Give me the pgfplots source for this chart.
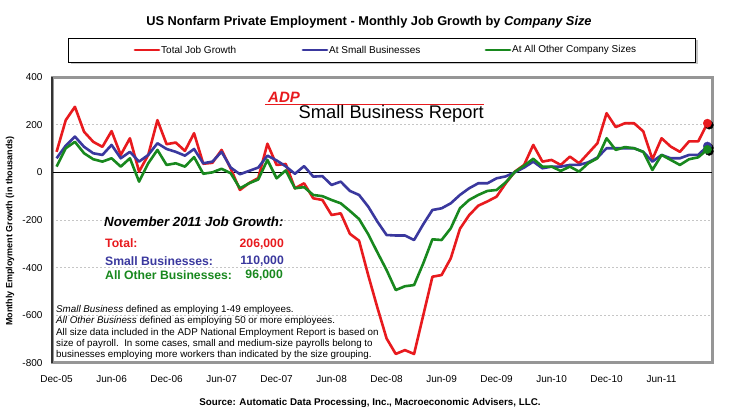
\documentclass[border=0pt]{standalone}
\usepackage{pgfplots}
\usepackage{pgfplotstable}
\pgfplotsset{compat=1.18}
\usepackage{fontspec}
\setmainfont{Liberation Sans}

\definecolor{tred}{RGB}{232,26,30}
\definecolor{sblue}{RGB}{58,56,158}
\definecolor{ogreen}{RGB}{24,136,30}
\definecolor{frame}{RGB}{150,150,150}

% month index (0 = Dec-05), total, small businesses, all other sizes (thousands)
\pgfplotstableread{
i total small other
0 86 59 24
1 219 112 101
2 275 150 128
3 170 107 80
4 128 80 55
5 107 73 45
6 173 115 59
7 73 59 24
8 143 86 59
9 3 45 -39
10 73 73 38
11 219 122 94
12 118 98 31
13 125 86 38
14 90 70 24
15 164 98 64
16 36 38 -6
17 40 45 0
18 94 86 15
19 15 20 -4
20 -74 -8 -67
21 -45 6 -46
22 -24 20 -30
23 120 70 52
24 31 50 -25
25 35 25 8
26 -67 -6 -67
27 -46 26 -62
28 -109 -18 -95
29 -116 -16 -100
30 -179 -53 -116
31 -172 -39 -130
32 -258 -78 -162
33 -287 -95 -196
34 -432 -144 -260
35 -568 -207 -336
36 -697 -263 -410
37 -762 -265 -494
38 -746 -265 -478
39 -762 -284 -473
40 -600 -218 -382
41 -438 -158 -281
42 -431 -151 -284
43 -361 -130 -235
44 -237 -95 -151
45 -180 -67 -116
46 -140 -46 -95
47 -122 -46 -78
48 -102 -25 -74
49 -46 -17 -42
50 3 0 2
51 31 20 28
52 115 45 57
53 45 17 24
54 52 24 24
55 31 24 6
56 66 31 24
57 38 31 3
58 80 42 38
59 122 62 59
60 248 101 143
61 190 101 94
62 206 101 106
63 206 101 101
64 172 86 86
65 55 45 10
66 143 73 73
67 108 59 52
68 86 59 31
69 130 73 55
70 130 73 63
71 206 110 96
}\jobdata

\begin{document}
\begin{tikzpicture}
\path[use as bounding box, fill=white] (0,0) rectangle (736pt,412pt);

% title
\node[font=\fontsize{12.8}{14}\selectfont\bfseries] at (369pt,390pt)
  {US Nonfarm Private Employment - Monthly Job Growth by \textit{Company Size}};

% legend box
\fill[gray!45] (70.5pt,347.5pt) rectangle (697.5pt,371.5pt);
\draw[black, fill=white, line width=0.7pt] (68pt,350pt) rectangle (695pt,374pt);
\draw[tred, line width=2.8pt, line cap=round] (135pt,362pt) -- (159pt,362pt);
\node[anchor=west, inner sep=0, font=\fontsize{10}{12}\selectfont] at (161pt,362pt) {Total Job Growth};
\draw[sblue, line width=2.8pt, line cap=round] (303pt,362pt) -- (327pt,362pt);
\node[anchor=west, inner sep=0, font=\fontsize{10}{12}\selectfont] at (329pt,362pt) {At Small Businesses};
\draw[ogreen, line width=2.8pt, line cap=round] (486pt,362pt) -- (510pt,362pt);
\node[anchor=west, inner sep=0, font=\fontsize{10}{12}\selectfont] at (512pt,362pt) {At All Other Company Sizes};

\begin{axis}[
    at={(52pt,49pt)}, anchor=south west,
    scale only axis, width=660pt, height=286pt,
    xmin=-0.5, xmax=71.5, ymin=-800, ymax=400,
    xtick={0,6,...,66},
    xticklabels={Dec-05,Jun-06,Dec-06,Jun-07,Dec-07,Jun-08,Dec-08,Jun-09,Dec-09,Jun-10,Dec-10,Jun-11},
    ytick={-800,-600,...,400},
    major tick length=0pt,
    ticklabel style={font=\fontsize{10}{12}\selectfont},
    xticklabel style={yshift=-9pt},
    yticklabel style={xshift=-6pt},
    /pgf/number format/assume math mode=true,
    ymajorgrids,
    grid style={dash pattern=on 2pt off 2pt, gray!45, line width=0.6pt},
    axis line style={draw=frame, line width=3pt},
    clip=false,
]
\draw[black, line width=0.7pt] (axis cs:-0.5,0) -- (axis cs:71.5,0);
\draw[black!80, line width=2pt] (axis cs:-0.5,-800) -- (axis cs:-0.5,400);

\addplot[tred, line width=2.6pt, line join=round] table[x=i, y=total] {\jobdata};
\addplot[sblue, line width=2.6pt, line join=round] table[x=i, y=small] {\jobdata};
\addplot[ogreen, line width=2.6pt, line join=round] table[x=i, y=other] {\jobdata};

% end-point markers with a dark shadow
\addplot[only marks, mark=*, mark size=4.2pt, black,
    mark options={xshift=1.8pt, yshift=-1.8pt}] coordinates {(71,206) (71,110) (71,96)};
\addplot[only marks, mark=*, mark size=4.2pt, tred] coordinates {(71,206)};
\addplot[only marks, mark=*, mark size=4.2pt, sblue] coordinates {(71,110)};
\addplot[only marks, mark=*, mark size=4.2pt, ogreen] coordinates {(71,96)};
\end{axis}

% y label
\node[rotate=90, font=\fontsize{9}{11}\selectfont\bfseries] at (10pt,181pt)
  {Monthly Employment Growth (in thousands)};

% ADP logo
\node[anchor=south west, inner sep=0, text=tred, font=\fontsize{15}{15}\selectfont\bfseries\itshape] at (268pt,309pt) {ADP};
\draw[tred, line width=0.8pt] (265pt,308pt) -- (484pt,308pt);
\node[anchor=east, inner sep=0, font=\fontsize{18.3}{19}\selectfont] at (484pt,298pt) {Small Business Report};

% November 2011 box
\node[anchor=west, inner sep=0, font=\fontsize{13.3}{15}\selectfont\bfseries\itshape] at (104pt,190pt) {November 2011 Job Growth:};
\node[anchor=west, inner sep=0, text=tred, font=\fontsize{12.2}{14}\selectfont\bfseries] at (105pt,169pt) {Total:};
\node[anchor=east, inner sep=0, text=tred, font=\fontsize{12.2}{14}\selectfont\bfseries] at (284pt,168pt) {206,000};
\node[anchor=west, inner sep=0, text=sblue, font=\fontsize{12.2}{14}\selectfont\bfseries] at (105pt,151pt) {Small Businesses:};
\node[anchor=east, inner sep=0, text=sblue, font=\fontsize{12.2}{14}\selectfont\bfseries] at (284pt,151pt) {110,000};
\node[anchor=west, inner sep=0, text=ogreen, font=\fontsize{12.2}{14}\selectfont\bfseries] at (105pt,137pt) {All Other Businesses:};
\node[anchor=east, inner sep=0, text=ogreen, font=\fontsize{12.2}{14}\selectfont\bfseries] at (283pt,137pt) {96,000};

% footnote
\begin{scope}[every node/.style={anchor=west, inner sep=0, font=\fontsize{9.8}{11}\selectfont}]
\node at (56pt,102pt) {\textit{Small Business} defined as employing 1-49 employees.};
\node at (56pt,91pt) {\textit{All Other Business} defined as employing 50 or more employees.};
\node at (56pt,79pt) {All size data included in the ADP National Employment Report is based on};
\node at (56pt,68pt) {size of payroll.\ \ In some cases, small and medium-size payrolls belong to};
\node at (56pt,57pt) {businesses employing more workers than indicated by the size grouping.};
\end{scope}

% source
\node[font=\fontsize{9.8}{11}\selectfont\bfseries] at (370pt,9pt)
  {Source: Automatic Data Processing, Inc., Macroeconomic Advisers, LLC.};
\end{tikzpicture}
\end{document}
